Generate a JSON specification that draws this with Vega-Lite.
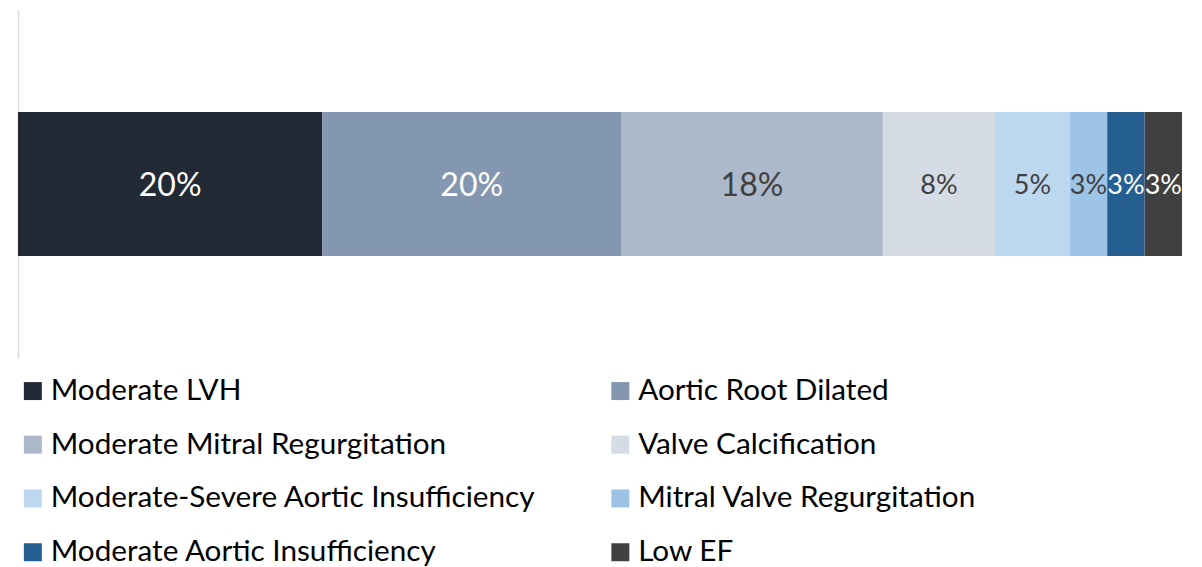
{
  "$schema": "https://vega.github.io/schema/vega-lite/v6.json",
  "autosize": {"type": "none"},
  "padding": {"left": 18, "top": 10, "right": 20, "bottom": 209},
  "width": 1164,
  "height": 348,
  "background": "white",
  "config": {"view": {"stroke": null}, "font": "Lato"},
  "data": {
    "values": [
      {"finding": "Moderate LVH", "share": 0.2035, "rank": 1},
      {"finding": "Aortic Root Dilated", "share": 0.1997, "rank": 2},
      {"finding": "Moderate Mitral Regurgitation", "share": 0.175, "rank": 3},
      {"finding": "Valve Calcification", "share": 0.075, "rank": 4},
      {"finding": "Moderate-Severe Aortic Insufficiency", "share": 0.05, "rank": 5},
      {"finding": "Mitral Valve Regurgitation", "share": 0.025, "rank": 6},
      {"finding": "Moderate Aortic Insufficiency", "share": 0.025, "rank": 7},
      {"finding": "Low EF", "share": 0.025, "rank": 8}
    ]
  },
  "encoding": {
    "y": {
      "field": "group",
      "type": "nominal",
      "datum": "all",
      "scale": {"paddingInner": 0, "paddingOuter": 0.708},
      "axis": {"title": null, "labels": false, "ticks": false, "domainColor": "#d9d9d9", "domainWidth": 1.5}
    },
    "x": {
      "field": "share",
      "type": "quantitative",
      "stack": "zero",
      "scale": {"domain": [0, 0.7782], "nice": false, "zero": true},
      "axis": null
    },
    "order": {"field": "rank", "type": "quantitative"}
  },
  "layer": [
    {
      "mark": {"type": "bar", "strokeWidth": 0},
      "encoding": {
        "color": {
          "field": "finding",
          "type": "nominal",
          "sort": ["Moderate LVH", "Aortic Root Dilated", "Moderate Mitral Regurgitation", "Valve Calcification", "Moderate-Severe Aortic Insufficiency", "Mitral Valve Regurgitation", "Moderate Aortic Insufficiency", "Low EF"],
          "scale": {
            "domain": ["Moderate LVH", "Aortic Root Dilated", "Moderate Mitral Regurgitation", "Valve Calcification", "Moderate-Severe Aortic Insufficiency", "Mitral Valve Regurgitation", "Moderate Aortic Insufficiency", "Low EF"],
            "range": ["#222A35", "#8497B0", "#ADB9CA", "#D6DCE5", "#BDD7EE", "#9DC3E6", "#255E91", "#404040"]
          },
          "legend": {
            "title": null,
            "orient": "none",
            "legendX": 0,
            "legendY": 366,
            "direction": "horizontal",
            "columns": 2,
            "columnPadding": 69.5,
            "rowPadding": 22.8,
            "padding": 0,
            "symbolType": "square",
            "symbolSize": 324,
            "symbolStrokeWidth": 0,
            "symbolOpacity": 1,
            "labelFont": "Lato",
            "labelFontSize": 29.7,
            "labelColor": "#000000",
            "labelOffset": 3,
            "labelLimit": 0
          }
        }
      }
    },
    {
      "mark": {"type": "text", "font": "Lato", "baseline": "middle", "align": "center", "dy": 2},
      "encoding": {
        "x": {"field": "share", "type": "quantitative", "stack": "zero", "bandPosition": 0.5},
        "text": {"field": "share", "type": "quantitative", "format": ".0%"},
        "size": {
          "condition": {"test": "datum.share >= 0.1", "value": 32},
          "value": 27
        },
        "color": {
          "condition": {"test": "indexof(['Moderate LVH','Aortic Root Dilated','Moderate Aortic Insufficiency','Low EF'], datum.finding) >= 0", "value": "#FFFFFF"},
          "value": "#404040"
        }
      }
    }
  ]
}
